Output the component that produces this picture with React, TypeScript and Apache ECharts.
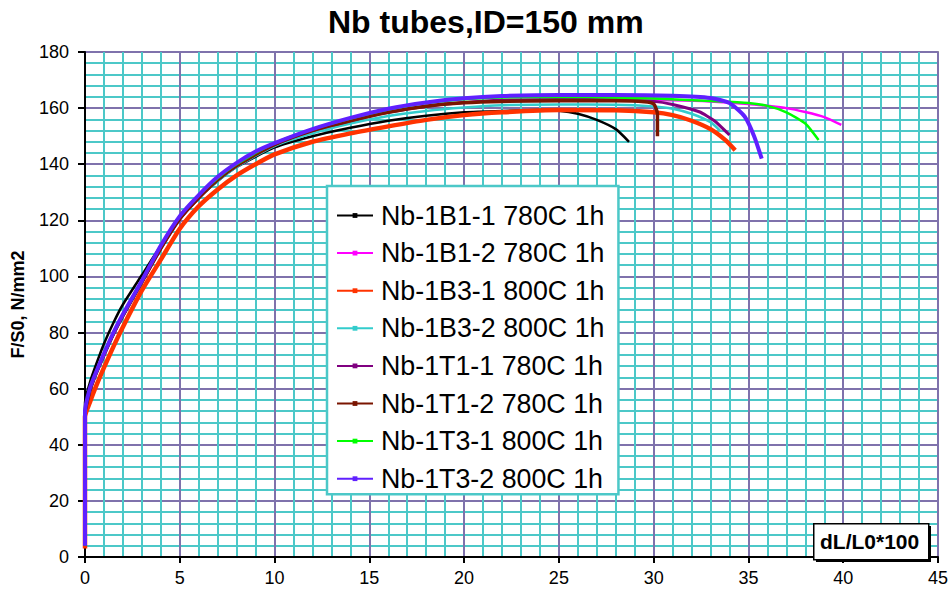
import React, { useEffect, useRef } from "react";
import * as echarts from "echarts";

const titleText = "Nb tubes,ID=150 mm";
const yAxisName = "F/S0, N/mm2";
const xAxisName = "dL/L0*100";

const seriesNames = [
  "Nb-1B1-1 780C 1h",
  "Nb-1B1-2 780C 1h",
  "Nb-1B3-1 800C 1h",
  "Nb-1B3-2 800C 1h",
  "Nb-1T1-1 780C 1h",
  "Nb-1T1-2 780C 1h",
  "Nb-1T3-1 800C 1h",
  "Nb-1T3-2 800C 1h",
];
const seriesColors = ["#000000", "#FF00FF", "#FF3300", "#33CCCC", "#800080", "#7A1500", "#00FF00", "#6020FF"];
const seriesWidths = [2.5, 2.5, 4.5, 2.5, 3, 3.5, 2.5, 4];

const nb1B1_1 = [
  [0, 4], [0, 55], [0.25, 62], [0.5, 67], [1, 76], [1.5, 83.5], [2, 90], [3, 100.5], [4, 111], [5, 120.5],
  [6, 128], [7, 134], [8, 139], [10, 146], [12, 150], [14, 153], [16, 155.5], [18, 157.3], [20, 158.5],
  [22, 159], [24, 159.3], [25, 159.1], [26, 158], [27, 155.8], [28, 152.5], [28.7, 148],
];
const nb1B1_2 = [
  [0, 4], [0, 51], [0.25, 59], [0.5, 64], [1, 72], [1.5, 79.5], [2, 86], [3, 98], [4, 110], [5, 120.5],
  [6, 128], [7, 134.5], [8, 139.5], [10, 147], [12, 152], [14, 155.8], [16, 158.8], [18, 160.8], [20, 162],
  [22, 162.6], [25, 162.9], [28, 163], [31, 162.8], [33, 162.4], [35, 161.5], [36, 160.8], [37, 160],
  [38, 158.6], [39, 156.8], [39.9, 154],
];
const nb1B3_1 = [
  [0, 3], [0, 50], [0.25, 55], [0.53, 60], [1, 67.5], [1.5, 75], [2, 82], [3, 95], [4, 106], [5, 117],
  [6, 125], [7, 131], [8, 136], [9, 140], [10, 143.5], [12, 148], [14, 151], [16, 153.5], [18, 155.8],
  [20, 157.5], [22, 158.5], [25, 159.3], [28, 159.2], [30, 158.5], [31, 157.5], [32, 155.5], [33, 152.5],
  [33.8, 148.5], [34.3, 145],
];
const nb1B3_2 = [
  [0, 4], [0, 52], [0.25, 59], [0.5, 64], [1, 72.5], [1.5, 80], [2, 86.5], [3, 98.5], [4, 110.5], [5, 120.5],
  [6, 128], [7, 134], [8, 139], [10, 146.5], [12, 151], [14, 154.5], [16, 157.2], [18, 159], [20, 160.2],
  [22, 161], [25, 161.3], [28, 161.2], [30, 160.6], [31, 159.8], [32, 158], [33, 155], [33.5, 152],
];
const nb1T1_1 = [
  [0, 4], [0, 51], [0.25, 59], [0.5, 64], [1, 72], [1.5, 79.5], [2, 86], [3, 98], [4, 110], [5, 120.5],
  [6, 128], [7, 134.5], [8, 139.5], [10, 147], [12, 152], [14, 155.5], [16, 158.5], [18, 160.7], [20, 162],
  [22, 162.8], [25, 163.1], [28, 163], [30, 162.4], [31, 161.3], [32.4, 158.7], [33.2, 155.5], [34, 150.4],
];
const nb1T1_2 = [
  [0, 4], [0, 51], [0.25, 59], [0.5, 64], [1, 72], [1.5, 79.5], [2, 86], [3, 98], [4, 110], [5, 120.5],
  [6, 128], [7, 134.5], [8, 139.5], [10, 147], [12, 152], [14, 155.5], [16, 158.5], [18, 160.7], [20, 161.9],
  [22, 162.4], [25, 162.6], [28, 162.6], [29.5, 162.3], [30, 161.5], [30.2, 158], [30.2, 150],
];
const nb1T3_1 = [
  [0, 4], [0, 52], [0.25, 60], [0.5, 64.5], [1, 72.5], [1.5, 80], [2, 86.5], [3, 98.5], [4, 111], [5, 121.5],
  [6, 129], [7, 135], [8, 140], [10, 147.5], [12, 152.5], [14, 156.3], [16, 159.5], [18, 161.8], [20, 163.2],
  [22, 163.8], [25, 164], [28, 163.8], [30, 163.4], [33, 162.5], [35, 161.8], [36, 160.8], [37, 158.5],
  [38, 154.5], [38.7, 148.6],
];
const nb1T3_2 = [
  [0, 4], [0, 52], [0.25, 60], [0.5, 64.5], [1, 72.5], [1.5, 80], [2, 86.5], [3, 98.5], [4, 111], [5, 121.5],
  [6, 129], [7, 135.5], [8, 140.5], [9, 144.5], [10, 147.5], [12, 152.5], [14, 156.5], [16, 159.8], [18, 162],
  [20, 163.5], [22, 164.3], [25, 164.7], [28, 164.7], [31, 164.4], [33, 163.6], [34, 161.8], [34.8, 157],
  [35.3, 150], [35.7, 142],
];
const seriesData = [nb1B1_1, nb1B1_2, nb1B3_1, nb1B3_2, nb1T1_1, nb1T1_2, nb1T3_1, nb1T3_2];

const xMin = 0, xMax = 45, xInterval = 5;
const yMin = 0, yMax = 180, yInterval = 20;

const FONT = "Arial, 'Liberation Sans', sans-serif";

export default function App() {
  const ref = useRef<HTMLDivElement>(null);
  useEffect(() => {
    if (!ref.current) return;
    const chart = echarts.init(ref.current, undefined, { renderer: "svg" });
    const series = seriesNames.map((name, i) => ({
      name,
      type: "line",
      data: seriesData[i],
      showSymbol: false,
      symbol: "rect",
      symbolSize: 4,
      smooth: 0.2,
      lineStyle: { color: seriesColors[i], width: seriesWidths[i] },
      itemStyle: { color: seriesColors[i] },
      emphasis: { disabled: true },
    }));
    chart.setOption({
      animation: false,
      backgroundColor: "#ffffff",
      textStyle: { fontFamily: FONT },
      title: {
        text: titleText,
        left: 323,
        top: 1,
        textStyle: { fontSize: 32, fontWeight: "bold", color: "#000", fontFamily: FONT },
      },
      grid: {
        left: 85,
        right: 11,
        top: 52,
        bottom: 37,
        show: true,
        backgroundColor: "#ffffff",
        borderColor: "#999999",
        borderWidth: 2,
      },
      legend: {
        orient: "vertical",
        left: 327,
        top: 186,
        padding: [16, 14, 2, 9],
        itemWidth: 36,
        itemHeight: 6,
        itemGap: 10.6,
        backgroundColor: "#ffffff",
        borderColor: "#4CC8C8",
        borderWidth: 2.5,
        borderRadius: 0,
        textStyle: { fontSize: 26.8, color: "#000", fontFamily: FONT, padding: [0, 0, 0, 3] },
        data: seriesNames,
      },
      xAxis: {
        type: "value",
        min: xMin,
        max: xMax,
        interval: xInterval,
        axisLine: { show: true, onZero: false, lineStyle: { color: "#000", width: 2 } },
        axisTick: { show: true, inside: false, length: 6, lineStyle: { color: "#000", width: 2 } },
        axisLabel: { fontSize: 18, color: "#000", margin: 12, fontFamily: FONT },
        splitLine: { show: true, lineStyle: { color: "#7F72AC", width: 2 } },
        minorTick: { show: false, splitNumber: 5 },
        minorSplitLine: { show: true, lineStyle: { color: "#4CC8C8", width: 2 } },
      },
      yAxis: {
        type: "value",
        min: yMin,
        max: yMax,
        interval: yInterval,
        name: yAxisName,
        nameLocation: "middle",
        nameGap: 58,
        nameTextStyle: { fontSize: 18, fontWeight: "bold", color: "#000", fontFamily: FONT },
        axisLine: { show: true, onZero: false, lineStyle: { color: "#000", width: 2 } },
        axisTick: { show: true, inside: false, length: 7, lineStyle: { color: "#000", width: 2 } },
        axisLabel: { fontSize: 18, color: "#000", margin: 16, fontFamily: FONT },
        splitLine: { show: true, lineStyle: { color: "#7F72AC", width: 2 } },
        minorTick: { show: false, splitNumber: 5 },
        minorSplitLine: { show: true, lineStyle: { color: "#4CC8C8", width: 2 } },
      },
      graphic: [
        {
          type: "rect",
          left: 816,
          top: 526,
          z: 100,
          shape: { width: 115, height: 36 },
          style: { fill: "#000" },
        },
        {
          type: "rect",
          left: 813,
          top: 523,
          z: 101,
          shape: { width: 115, height: 36 },
          style: { fill: "#fff", stroke: "#000", lineWidth: 1.5 },
        },
        {
          type: "text",
          left: 820,
          top: 531,
          z: 102,
          style: {
            text: xAxisName,
            fontSize: 21,
            fontWeight: "bold",
            fontFamily: FONT,
            fill: "#000",
          },
        },
      ],
      series,
    });
    return () => chart.dispose();
  }, []);
  return <div ref={ref} style={{ width: 951, height: 594, position: "absolute", left: 0, top: 0 }} />;
}
